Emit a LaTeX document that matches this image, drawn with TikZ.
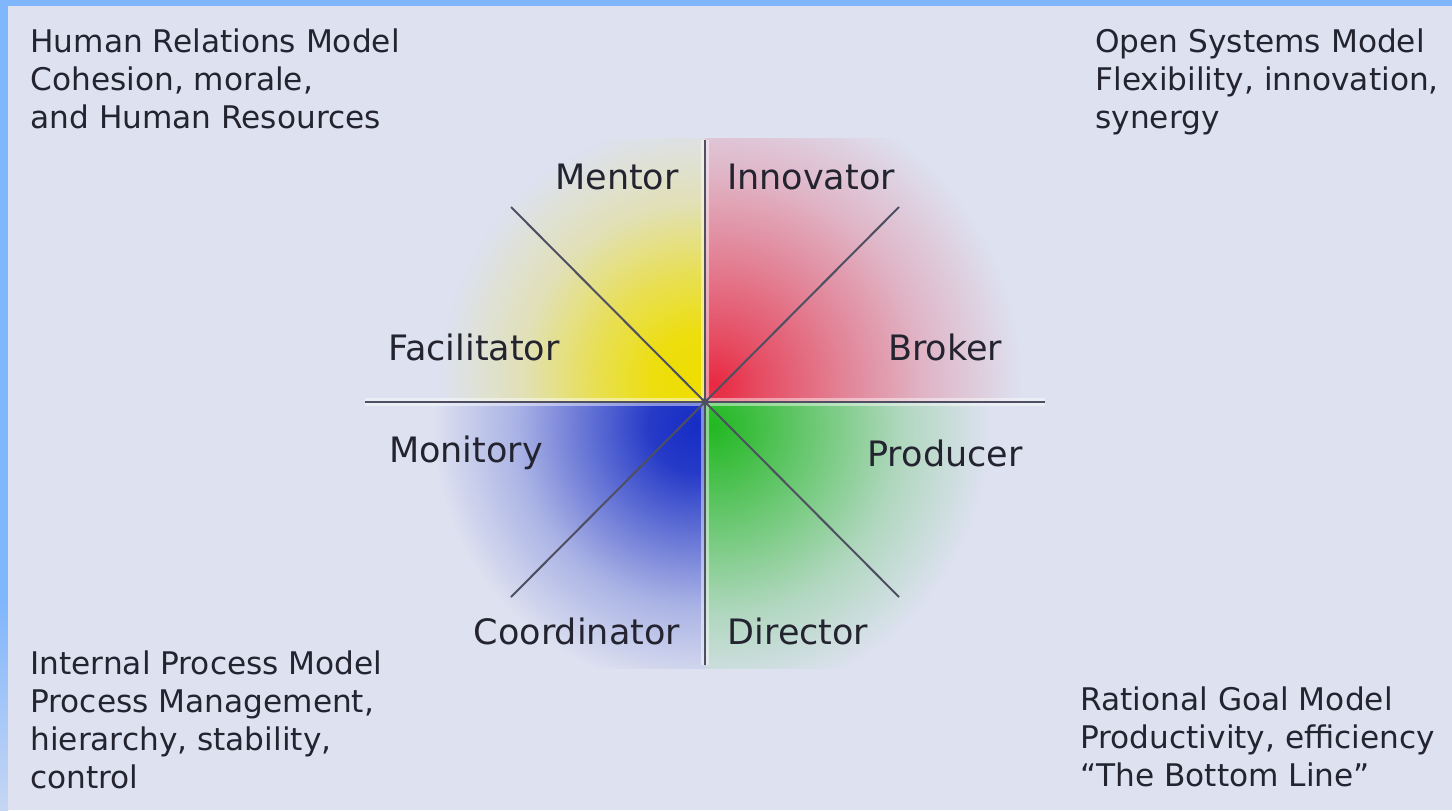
\documentclass[tikz,border=0pt]{standalone}
\usepackage{fontspec}
\setmainfont{DejaVu Sans}
\usetikzlibrary{calc}

\definecolor{framebl}{RGB}{128,182,252}
\definecolor{paper}{RGB}{221,225,240}
\definecolor{ink}{RGB}{36,36,48}
\definecolor{axisgrey}{RGB}{78,80,98}
\definecolor{yellowcore}{RGB}{238,222,0}
\definecolor{redcore}{RGB}{232,40,64}
\definecolor{bluecore}{RGB}{22,44,196}
\definecolor{greencore}{RGB}{34,184,34}

% the circle edge sits at 25bp of the shading
\pgfdeclareradialshading{glowyellow}{\pgfpoint{0bp}{0bp}}{color(0bp)=(yellowcore); color(4bp)=(yellowcore!94!paper); color(9bp)=(yellowcore!65!paper); color(15bp)=(yellowcore!24!paper); color(22bp)=(paper); color(50bp)=(paper)}
\pgfdeclareradialshading{glowred}{\pgfpoint{0bp}{0bp}}{color(0bp)=(redcore); color(3bp)=(redcore!82!paper); color(9bp)=(redcore!52!paper); color(15bp)=(redcore!24!paper); color(22bp)=(paper); color(50bp)=(paper)}
\pgfdeclareradialshading{glowblue}{\pgfpoint{0bp}{0bp}}{color(0bp)=(bluecore); color(4bp)=(bluecore!92!paper); color(9bp)=(bluecore!62!paper); color(15bp)=(bluecore!26!paper); color(22bp)=(paper); color(50bp)=(paper)}
\pgfdeclareradialshading{glowgreen}{\pgfpoint{0bp}{0bp}}{color(0bp)=(greencore); color(3bp)=(greencore!86!paper); color(9bp)=(greencore!55!paper); color(15bp)=(greencore!24!paper); color(22bp)=(paper); color(50bp)=(paper)}

\begin{document}
\begin{tikzpicture}[x=0.5pt, y=-0.5pt, line join=round,
  role/.style={font=\fontsize{17.5}{21}\selectfont, text=ink, inner sep=0pt},
  model/.style={font=\fontsize{15.6}{19}\selectfont, text=ink, align=left, anchor=north west, inner sep=0pt},
  axisline/.style={draw=axisgrey, line width=1pt},
  halo/.style={draw=white, line width=4pt, opacity=0.45}]

\useasboundingbox (0,0) rectangle (1452,810);

% frame and paper
\fill[framebl] (0,0) rectangle (1452,810);
\shade[top color=framebl, bottom color=framebl!25!paper] (0,600) rectangle (8,810);
\fill[paper] (8,6) rectangle (1452,810);

\coordinate (hub) at (705,402);

\coordinate (top) at (705,140);
\coordinate (bottom) at (705,665);
\coordinate (left) at (365,402);
\coordinate (right) at (1045,402);

\coordinate (nw) at (511,207);
\coordinate (ne) at (899,207);
\coordinate (sw) at (511,597);
\coordinate (se) at (899,597);

% coloured quarters
\begin{scope}
\clip (hub) rectangle (420,138);
\shade[shading=glowyellow] (700,380) circle (148pt);
\end{scope}
\begin{scope}
\clip (hub) rectangle (1080,138);
\shade[shading=glowred] (714,385) circle (175pt);
\end{scope}
\begin{scope}
\clip (hub) rectangle (420,668);
\shade[shading=glowblue] (697,425) circle (150pt);
\end{scope}
\begin{scope}
\clip (hub) rectangle (1080,668);
\shade[shading=glowgreen] (712,425) circle (158pt);
\end{scope}

% axes
\draw[halo] (top) -- (bottom);
\draw[halo] (left) -- (right);
\draw[axisline] (top) -- (bottom);
\draw[axisline] (left) -- (right);
\draw[axisline] (nw) -- (se);
\draw[axisline] (ne) -- (sw);
\fill[axisgrey] (hub) circle (2pt);

\node (mentor) at (617,177) [role] {Mentor};
\node (innovator) at (811,177) [role] {Innovator};
\node (facilitator) at (474,347) [role] {Facilitator};
\node (broker) at (945,347) [role] {Broker};
\node (monitory) at (466,453) [role] {Monitory};
\node (producer) at (945,453) [role] {Producer};
\node (coordinator) at (577,631) [role] {Coordinator};
\node (director) at (798,631) [role] {Director};

\node (human) at (30,28) [model] {Human Relations Model\\Cohesion, morale,\\and Human Resources};
\node (open) at (1095,28) [model] {Open Systems Model\\Flexibility, innovation,\\synergy};
\node (internal) at (30,650) [model] {Internal Process Model\\Process Management,\\hierarchy, stability,\\control};
\node (rational) at (1080,686) [model] {Rational Goal Model\\Productivity, efficiency\\``The Bottom Line''};

\end{tikzpicture}
\end{document}
